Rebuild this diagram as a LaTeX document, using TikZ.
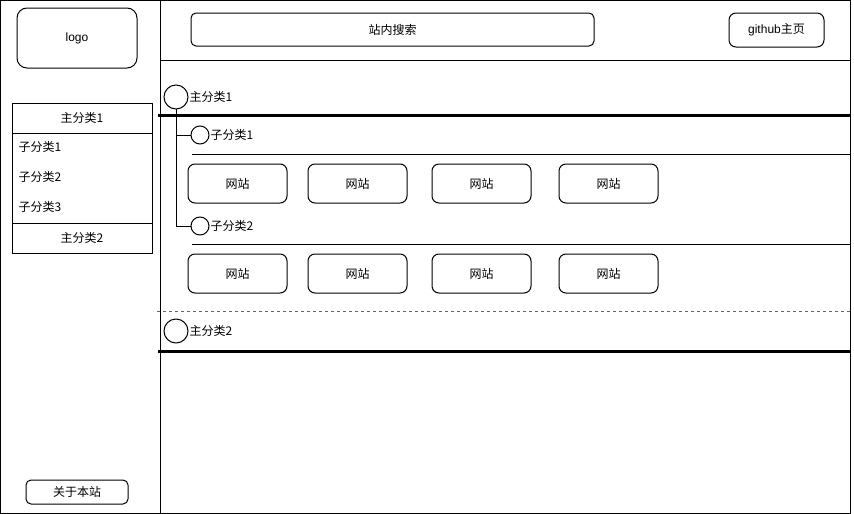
\documentclass[tikz,border=0pt]{standalone}
\usepackage{fontspec}
\setmainfont{Liberation Sans}
\newfontfamily\cjk{Noto Sans CJK SC}
\begin{document}
\begin{tikzpicture}[x=1pt,y=-1pt,line width=1pt,
  txt/.style={font=\fontsize{12}{14}\selectfont\cjk},
  box/.style={draw,rounded corners=#1,inner sep=0pt,outer sep=0pt,anchor=north west,txt},
  box/.default=7pt,
  rect/.style={draw,inner sep=0pt,outer sep=0pt,anchor=north west,txt},
  bigc/.style={draw,circle,minimum size=24pt,inner sep=0pt,outer sep=0pt},
  smallc/.style={draw,circle,minimum size=18pt,inner sep=0pt,outer sep=0pt},
  lbl/.style={anchor=west,inner sep=1pt,txt},
  web/.style={box=7pt,minimum width=99pt,minimum height=39pt}]
\useasboundingbox (0,0) rectangle (854,514);
% frames
\node[rect,minimum width=160pt,minimum height=512.5pt] (side) at (0.5,0.5) {};
\node[rect,minimum width=690pt,minimum height=60pt] (head) at (160,0.5) {};
\node[rect,minimum width=690pt,minimum height=453pt] (main) at (160,60) {};
% sidebar
\node[box=10pt,minimum width=120pt,minimum height=60pt] (logo) at (17,8) {\rmfamily logo};
\node[rect,minimum width=140pt,minimum height=150pt] (menu) at (12,103) {};
\node[rect,minimum width=140pt,minimum height=30pt] (mh1) at (12,103) {主分类1};
\node[rect,minimum width=140pt,minimum height=30pt] (mh2) at (12,223) {主分类2};
\node[lbl] (mi1) at (17,147) {子分类1};
\node[lbl] (mi2) at (17,177) {子分类2};
\node[lbl] (mi3) at (17,207) {子分类3};
\node[box=5pt,minimum width=102pt,minimum height=24pt] (about) at (26,480) {关于本站};
% header
\node[box=5pt,minimum width=403pt,minimum height=33pt] (search) at (191,13) {站内搜索};
\node[box=7pt,minimum width=95pt,minimum height=34pt] (github) at (729,13) {{\rmfamily github}主页};
% category 1
\node[bigc] (c1) at (176,97) {};
\node[lbl] (c1l) at (c1.east) {主分类1};
\draw[line width=3pt] (158,115) -- (850,115);
\node[smallc] (s1) at (200,135) {};
\node[lbl] (s1l) at (s1.east) {子分类1};
\node[smallc] (s2) at (200,226) {};
\node[lbl] (s2l) at (s2.east) {子分类2};
\draw (c1.south) |- (s1.west);
\draw (c1.south) |- (s2.west);
\draw (192,154) -- (850,154);
\draw (192,244) -- (850,244);
\node[web] (w11) at (188,164) {网站};
\node[web] (w12) at (308,164) {网站};
\node[web] (w13) at (432,164) {网站};
\node[web] (w14) at (559,164) {网站};
\node[web] (w21) at (188,254) {网站};
\node[web] (w22) at (308,254) {网站};
\node[web] (w23) at (432,254) {网站};
\node[web] (w24) at (559,254) {网站};
% separator
\draw[gray!80!black,dash pattern=on 3pt off 3pt] (157,311) -- (850,311);
% category 2
\node[bigc] (c2) at (176,331) {};
\node[lbl] (c2l) at (c2.east) {主分类2};
\draw[line width=3pt] (158,351) -- (850,351);
\end{tikzpicture}
\end{document}
